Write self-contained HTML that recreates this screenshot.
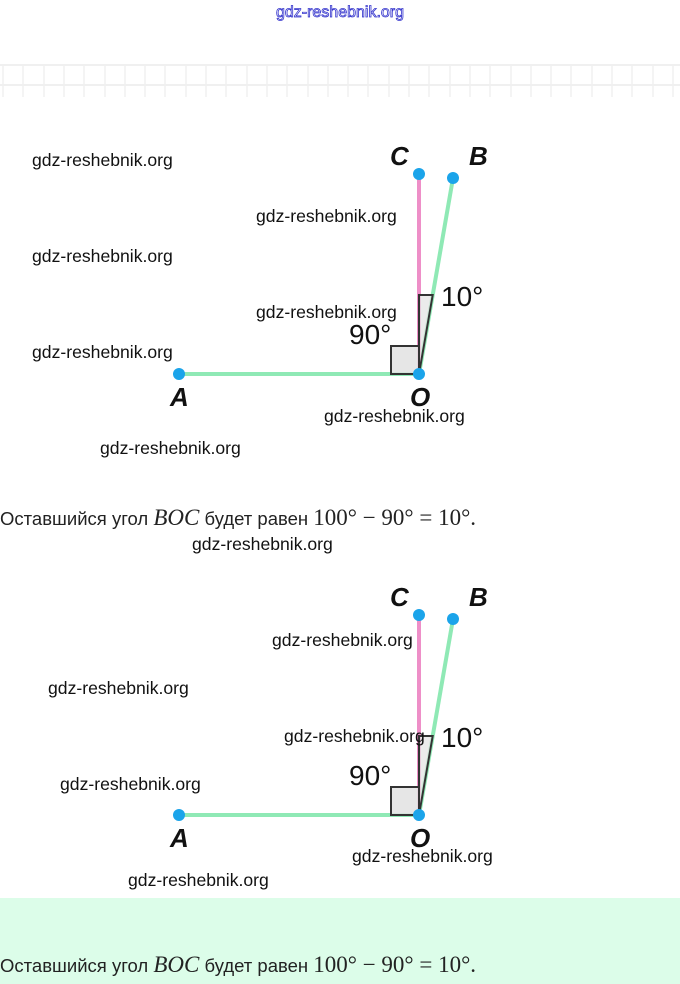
<!DOCTYPE html>
<html><head><meta charset="utf-8"><style>
html,body{margin:0;padding:0;background:#fff;width:680px;height:984px;overflow:hidden}
svg{display:block}
.w{font-family:"Liberation Sans",sans-serif;font-size:17.6px;fill:#111}
.l{font-family:"Liberation Sans",sans-serif;font-size:26px;font-weight:bold;font-style:italic;fill:#111}
.d{font-family:"Liberation Sans",sans-serif;font-size:28px;fill:#111}
.t{font-family:"Liberation Sans",sans-serif;font-size:18.5px;fill:#222}
.m{font-family:"Liberation Serif",serif;font-size:23px;fill:#222}
</style></head><body>
<svg width="680" height="984" viewBox="0 0 680 984" xmlns="http://www.w3.org/2000/svg">
<rect x="0" y="898" width="680" height="86" fill="#dcfde9"/>
<text x="340" y="17" text-anchor="middle" font-family="Liberation Sans,sans-serif" font-size="16" fill="#fff" stroke="#3333cc" stroke-width="0.8">gdz-reshebnik.org</text>
<g stroke="#ececec" stroke-width="1.5">
<line x1="0" y1="65" x2="680" y2="65"/><line x1="0" y1="85" x2="680" y2="85"/>
</g>
<path stroke="#f0f0f0" stroke-width="1.5" d="M3 65V97M23 65V97M44 65V97M64 65V97M84 65V97M105 65V97M125 65V97M145 65V97M165 65V97M186 65V97M206 65V97M226 65V97M247 65V97M267 65V97M287 65V97M308 65V97M328 65V97M348 65V97M368 65V97M389 65V97M409 65V97M429 65V97M450 65V97M470 65V97M490 65V97M511 65V97M531 65V97M551 65V97M571 65V97M592 65V97M612 65V97M632 65V97M653 65V97M673 65V97"/>
<g id="d1">
<line x1="179" y1="374" x2="419" y2="374" stroke="#8fe9b5" stroke-width="4"/>
<line x1="419" y1="374" x2="453" y2="178" stroke="#8fe9b5" stroke-width="4"/>
<line x1="419" y1="374" x2="419" y2="174" stroke="#ee8fc8" stroke-width="4"/>
<rect x="391" y="346" width="28" height="28" fill="#e2e2e2" fill-opacity="0.85" stroke="#333" stroke-width="2"/>
<polygon points="419,374 419,295 432.7,295" fill="#e2e2e2" fill-opacity="0.7" stroke="#333" stroke-width="2"/>
<circle cx="179" cy="374" r="6" fill="#1ba4ea"/>
<circle cx="419" cy="374" r="6" fill="#1ba4ea"/>
<circle cx="419" cy="174" r="6" fill="#1ba4ea"/>
<circle cx="453" cy="178" r="6" fill="#1ba4ea"/>
<text class="l" x="390" y="165">C</text>
<text class="l" x="469" y="165">B</text>
<text class="l" x="170" y="406">A</text>
<text class="l" x="410" y="406">O</text>
<text class="d" x="441" y="306">10°</text>
<text class="d" x="349" y="344">90°</text>
</g>
<use href="#d1" transform="translate(0,441)"/>
<text class="w" x="32" y="166">gdz-reshebnik.org</text>
<text class="w" x="256" y="222">gdz-reshebnik.org</text>
<text class="w" x="32" y="262">gdz-reshebnik.org</text>
<text class="w" x="256" y="318">gdz-reshebnik.org</text>
<text class="w" x="32" y="358">gdz-reshebnik.org</text>
<text class="w" x="324" y="422">gdz-reshebnik.org</text>
<text class="w" x="100" y="454">gdz-reshebnik.org</text>
<text class="w" x="192" y="550">gdz-reshebnik.org</text>
<text class="w" x="272" y="646">gdz-reshebnik.org</text>
<text class="w" x="48" y="694">gdz-reshebnik.org</text>
<text class="w" x="284" y="742">gdz-reshebnik.org</text>
<text class="w" x="60" y="790">gdz-reshebnik.org</text>
<text class="w" x="352" y="862">gdz-reshebnik.org</text>
<text class="w" x="128" y="886">gdz-reshebnik.org</text>
<g id="s1">
<text x="0" y="525"><tspan class="t">Оставшийся угол </tspan><tspan class="m" font-style="italic">BOC</tspan><tspan class="t"> будет равен </tspan><tspan class="m">100° − 90° = 10°.</tspan></text>
</g>
<use href="#s1" transform="translate(0,447)"/>
</svg>
</body></html>
